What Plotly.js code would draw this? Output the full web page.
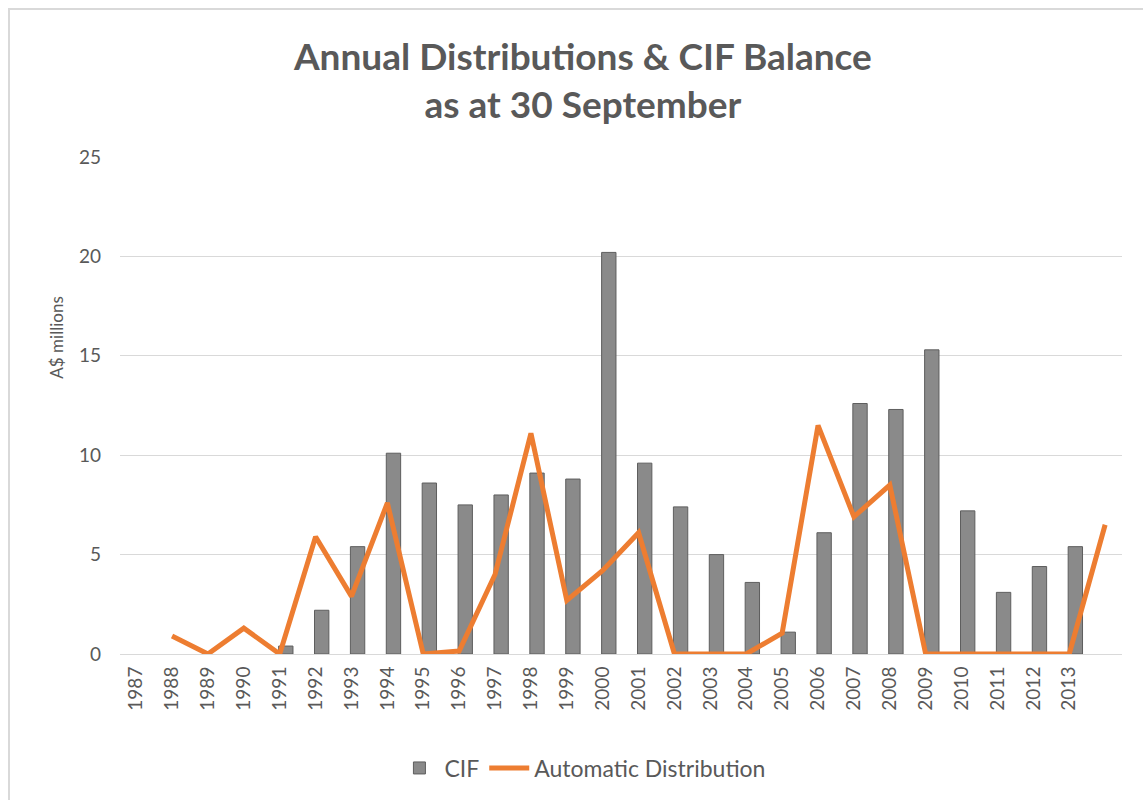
<!DOCTYPE html>
<html>
<head>
<meta charset="utf-8">
<script src="https://cdn.plot.ly/plotly-3.0.1.min.js"></script>
<style>
  html, body { margin: 0; padding: 0; background: #ffffff; }
  #frame { position: absolute; left: 8px; top: 8px; width: 1200px; height: 900px;
           border-left: 2px solid #d9d9d9; border-top: 2px solid #d9d9d9; }
  #chart { position: absolute; left: 0; top: 0; width: 1143px; height: 800px; }
</style>
</head>
<body>
<div id="frame"></div>
<div id="chart"></div>
<script>
const years = [1987, 1988, 1989, 1990, 1991, 1992, 1993, 1994, 1995, 1996, 1997, 1998, 1999, 2000,
               2001, 2002, 2003, 2004, 2005, 2006, 2007, 2008, 2009, 2010, 2011, 2012, 2013, 2014];
const tickYears = [1987, 1988, 1989, 1990, 1991, 1992, 1993, 1994, 1995, 1996, 1997, 1998, 1999, 2000,
                   2001, 2002, 2003, 2004, 2005, 2006, 2007, 2008, 2009, 2010, 2011, 2012, 2013];
const tickLabels = ["1987", "1988", "1989", "1990", "1991", "1992", "1993", "1994", "1995", "1996",
                    "1997", "1998", "1999", "2000", "2001", "2002", "2003", "2004", "2005", "2006",
                    "2007", "2008", "2009", "2010", "2011", "2012", "2013"];
const cif = [null, null, null, null, 0.4, 2.2, 5.4, 10.1, 8.6, 7.5, 8.0, 9.1, 8.8, 20.2,
             9.6, 7.4, 5.0, 3.6, 1.1, 6.1, 12.6, 12.3, 15.3, 7.2, 3.1, 4.4, 5.4, null];
const autoDist = [null, 0.9, 0, 1.3, 0, 5.9, 2.9, 7.6, 0, 0.15, 4.0, 11.1, 2.7, 4.2,
                  6.1, 0, 0, 0, 1.05, 11.5, 6.9, 8.5, 0, 0, 0, 0, 0, 6.5];

const FONT = "Lato, 'Open Sans', sans-serif";
const GREY = "#595959";

const traces = [
  {
    type: "bar", name: "CIF", x: years, y: cif,
    width: 0.4, offset: -0.03,
    marker: { color: "#8a8a8a", line: { color: "#5e5e5e", width: 1 } },
    hoverinfo: "x+y"
  },
  {
    type: "scatter", mode: "lines", name: "Automatic Distribution", x: years, y: autoDist,
    line: { color: "#ED7D31", width: 5 }, connectgaps: false
  }
];

const layout = {
  width: 1143, height: 800,
  paper_bgcolor: "rgba(0,0,0,0)", plot_bgcolor: "rgba(0,0,0,0)",
  margin: { l: 120, r: 21, t: 157, b: 145 },
  font: { family: FONT, color: GREY },
  title: {
    text: "<b>Annual Distributions & CIF Balance<br>as at 30 September</b>",
    font: { family: FONT, size: 37, color: GREY },
    x: 0.51, xanchor: "center", y: 0.9125, yanchor: "middle"
  },
  xaxis: {
    range: [1986.55, 2014.47],
    tickmode: "array", tickvals: tickYears, ticktext: tickLabels,
    tickangle: -90, tickfont: { family: FONT, size: 19, color: GREY },
    showgrid: false, zeroline: false, showline: true, linecolor: "#d9d9d9", linewidth: 1,
    ticks: "", ticklabelstandoff: 4
  },
  yaxis: {
    range: [0, 25], tickvals: [0, 5, 10, 15, 20, 25],
    tickfont: { family: FONT, size: 19, color: GREY },
    showgrid: true, gridcolor: "#d9d9d9", gridwidth: 1,
    zeroline: false, showline: false, ticks: "", ticklabelstandoff: 18
  },
  annotations: [
    { text: "A$ millions", xref: "paper", yref: "paper",
      x: (57 - 120) / 1002, y: (655 - 338) / 498, xanchor: "center", yanchor: "middle",
      textangle: -90, showarrow: false, font: { family: FONT, size: 17, color: GREY } }
  ],
  legend: {
    orientation: "h", x: 0.462, xanchor: "center", y: (655 - 768) / 498, yanchor: "middle",
    font: { family: FONT, size: 23, color: GREY }, itemwidth: 40, tracegroupgap: 0
  },
  showlegend: true
};

Plotly.newPlot("chart", traces, layout, { displayModeBar: false, staticPlot: true });
</script>
</body>
</html>
